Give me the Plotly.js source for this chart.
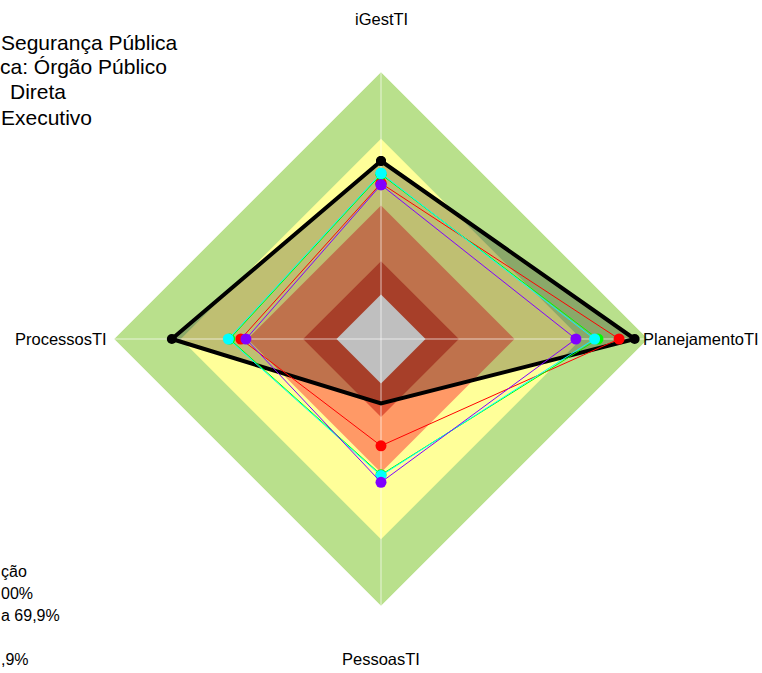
<!DOCTYPE html>
<html>
<head>
<meta charset="utf-8">
<script src="https://cdn.plot.ly/plotly-3.0.1.min.js"></script>
<style>html,body{margin:0;padding:0;background:#fff;}#chart{width:762px;height:673px;}</style>
</head>
<body>
<div id="chart"></div>
<script>
// Axes of the radar (clockwise from top)
const categories = ["iGestTI", "PlanejamentoTI", "PessoasTI", "ProcessosTI"];

// Classification bands (upper limits, %)
const bandLimits = [100, 70, 40, 15, 0];
const bandColors = ["#B9E08C", "#FFFF99", "#FF9966", "#DF5537", "#FFFFFF"];

// Series values (%), same order as categories
const seriesBlack  = [60, 94, 9, 74];
const seriesRed    = [50, 87, 28, 43];
const seriesLime   = [54, 77.5, 41, 48];
const seriesCyan   = [54.5, 76, 41.4, 48.6];
const seriesPurple = [49.3, 67.6, 44.4, 40.7];

// Visible (clipped) header and legend texts
const titleLines = ["Segurança Pública", "ca: Órgão Público", "Direta", "Executivo"];
const legendLines = ["ção", "00%", "a 69,9%", "", ",9%"];

const RMIN = -20, RMAX = 100;
const closeT = a => a.concat([a[0]]);
const theta = closeT(categories);
const constR = v => theta.map(() => v);

const traces = [];
bandLimits.forEach((lim, i) => {
  traces.push({type: "scatterpolar", r: constR(lim), theta: theta, mode: "lines",
    fill: "toself", fillcolor: bandColors[i], line: {width: 0, color: bandColors[i]},
    hoverinfo: "skip", showlegend: false});
});
// black series fill
traces.push({type: "scatterpolar", r: closeT(seriesBlack), theta: theta, mode: "lines",
  fill: "toself", fillcolor: "rgba(0,0,0,0.25)", line: {width: 0, color: "rgba(0,0,0,0)"},
  hoverinfo: "skip", showlegend: false});
// axis lines through the centre
[[categories[0], categories[2]], [categories[1], categories[3]]].forEach(pair => {
  traces.push({type: "scatterpolar", r: [RMAX, RMAX], theta: pair, mode: "lines",
    line: {width: 1.5, color: "rgba(255,255,255,0.45)"}, hoverinfo: "skip", showlegend: false});
});
// series
const series = [
  {v: seriesBlack, c: "#000000", w: 4, m: 10},
  {v: seriesRed, c: "#FF0000", w: 1, m: 11},
  {v: seriesLime, c: "#00FF00", w: 1, m: 11},
  {v: seriesCyan, c: "#00FFFF", w: 1, m: 11},
  {v: seriesPurple, c: "#8000FF", w: 1, m: 11}
];
series.forEach(s => {
  traces.push({type: "scatterpolar", r: closeT(s.v), theta: theta, mode: "lines+markers",
    line: {width: s.w, color: s.c}, marker: {size: s.m, color: s.c}, showlegend: false});
});

const W = 762, H = 673, cx = 381, cy = 339, R = 267;
const FONT = "Liberation Sans, Arial, sans-serif";
const annotations = [];
// axis labels at 1.2 x outer radius
categories.forEach((c, i) => {
  const a = 2 * Math.PI * i / categories.length;
  const px = cx + 1.2 * R * Math.sin(a), py = cy - 1.2 * R * Math.cos(a);
  annotations.push({xref: "paper", yref: "paper", x: px / W, y: 1 - py / H,
    xanchor: "center", yanchor: "middle", showarrow: false, text: c,
    font: {family: FONT, size: 16.5, color: "#000"}});
});
const titleX = [-1, -2, 8, -1];
titleLines.forEach((t, i) => {
  annotations.push({xref: "paper", yref: "paper", x: titleX[i] / W, y: 1 - (42 + 25 * i) / H,
    xanchor: "left", yanchor: "middle", showarrow: false, text: t,
    font: {family: FONT, size: 21, color: "#000"}});
});
legendLines.forEach((t, i) => {
  if (!t) return;
  annotations.push({xref: "paper", yref: "paper", x: -1 / W, y: 1 - (571 + 22 * i) / H,
    xanchor: "left", yanchor: "middle", showarrow: false, text: t,
    font: {family: FONT, size: 16, color: "#000"}});
});

const layout = {
  width: W, height: H, margin: {l: 0, r: 0, t: 0, b: 0},
  paper_bgcolor: "#fff", showlegend: false,
  polar: {
    domain: {x: [(cx - R) / W, (cx + R) / W], y: [(H - cy - R) / H, (H - cy + R) / H]},
    bgcolor: "rgba(0,0,0,0)", gridshape: "linear",
    radialaxis: {range: [RMIN, RMAX], visible: false, showgrid: false},
    angularaxis: {direction: "clockwise", rotation: 90, showgrid: false, showline: false,
      showticklabels: false, ticks: "", categoryarray: categories, categoryorder: "array"}
  },
  annotations: annotations
};
Plotly.newPlot("chart", traces, layout, {staticPlot: true});
</script>
</body>
</html>
